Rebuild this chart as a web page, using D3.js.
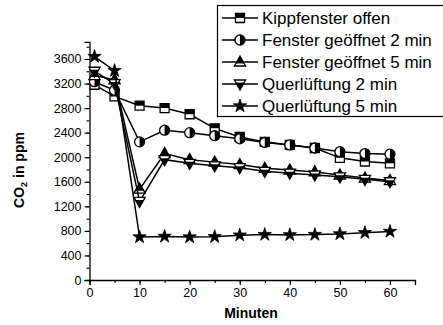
<!DOCTYPE html>
<html><head><meta charset="utf-8">
<script src="https://cdn.jsdelivr.net/npm/d3@7"></script>
<style>body{margin:0;background:#fff}svg{display:block;font-family:"Liberation Sans",Arial,sans-serif}</style>
</head><body><svg id="c" width="443" height="325"></svg>
<script>
const minutes = [1,5,10,15,20,25,30,35,40,45,50,55,60];
const kippfenster = [3180,2990,2840,2800,2700,2470,2330,2250,2200,2150,1990,1930,1900];
const fenster2 = [3230,3090,2250,2440,2400,2350,2300,2240,2200,2150,2090,2060,2050];
const fenster5 = [3330,3260,1480,2060,1960,1920,1880,1820,1790,1760,1710,1660,1620];
const quer2 = [3400,3200,1280,1960,1900,1860,1830,1770,1740,1710,1680,1640,1600];
const quer5 = [3640,3410,700,710,700,705,730,740,735,740,750,770,790];
const seriesNames = ["Kippfenster offen","Fenster geöffnet 2 min","Fenster geöffnet 5 min","Querlüftung 2 min","Querlüftung 5 min"];
const seriesMarkers = ["square","circle","up","down","star"];
const xTicks = [0,10,20,30,40,50,60];
const yTicks = [0,400,800,1200,1600,2000,2400,2800,3200,3600];
const series = [kippfenster,fenster2,fenster5,quer2,quer5];

const svg = d3.select("#c");
const x = d3.scaleLinear().domain([0,65]).range([89.5,415]);
const y = d3.scaleLinear().domain([0,3880]).range([280,41.8]);

// axes
const xAxis = svg.append("g").attr("transform","translate(0,280)");
xAxis.call(d3.axisBottom(x).tickValues(d3.range(0,66,5)).tickSize(3).tickFormat(""));
xAxis.call(g=>g.select(".domain").remove());
const xMaj = svg.append("g").attr("transform","translate(0,280)")
  .call(d3.axisBottom(x).tickValues(xTicks).tickSize(5).tickPadding(3).tickFormat(d3.format("d")));
xMaj.selectAll("text").attr("font-size",12.5).attr("font-family","Liberation Sans, Arial");
const yAxis = svg.append("g").attr("transform","translate(89.5,0)");
yAxis.call(d3.axisLeft(y).tickValues(d3.range(0,3801,200)).tickSize(3).tickFormat(""));
yAxis.call(g=>g.select(".domain").remove());
const yMaj = svg.append("g").attr("transform","translate(89.5,0)")
  .call(d3.axisLeft(y).tickValues(yTicks).tickSize(5).tickPadding(3).tickFormat(d3.format("d")));
yMaj.selectAll("text").attr("font-size",12.5).attr("font-family","Liberation Sans, Arial");
svg.selectAll(".tick line").attr("stroke-width",1.1);
svg.selectAll(".domain").attr("stroke-width",1.3);

// titles
svg.append("text").attr("x",251).attr("y",318).attr("text-anchor","middle")
  .attr("font-weight","bold").attr("font-size",14).text("Minuten");
const yt = svg.append("text").attr("transform","translate(24,170) rotate(-90)")
  .attr("text-anchor","middle").attr("font-weight","bold").attr("font-size",14);
yt.append("tspan").text("CO");
yt.append("tspan").attr("font-size",9).attr("dy",3).text("2");
yt.append("tspan").attr("dy",-3).text(" in ppm");

// marker drawing
const defs = svg.append("defs");
defs.append("clipPath").attr("id","cTop").append("rect").attr("x",-10).attr("y",-10).attr("width",20).attr("height",10);
defs.append("clipPath").attr("id","cRight").append("rect").attr("x",0).attr("y",-10).attr("width",10).attr("height",20);
defs.append("clipPath").attr("id","cTopTri").append("rect").attr("x",-10).attr("y",-10).attr("width",20).attr("height",11.5);
defs.append("clipPath").attr("id","cBotTri").append("rect").attr("x",-10).attr("y",-1.5).attr("width",20).attr("height",12);
const shapes = {
  square: {d:"M-4.5,-4.5H4.5V4.5H-4.5Z", clip:"cTop"},
  circle: {d:d3.symbol(d3.symbolCircle, 78)(), clip:"cRight"},
  up: {d:"M0,-6L5.6,4H-5.6Z", clip:"cTopTri"},
  down: {d:"M0,6L5.6,-4H-5.6Z", clip:"cBotTri"},
  star: {d:d3.symbol(d3.symbolStar, 55)(), clip:null}
};
function marker(g, type){
  const s = shapes[type];
  if (type==="star"){
    g.append("path").attr("d",s.d).attr("fill","#000").attr("stroke","#000").attr("stroke-width",0.8);
    return;
  }
  g.append("path").attr("d",s.d).attr("fill","#fff").attr("stroke","none");
  g.append("path").attr("d",s.d).attr("fill","#000").attr("clip-path",`url(#${s.clip})`);
  g.append("path").attr("d",s.d).attr("fill","none").attr("stroke","#000").attr("stroke-width",1.3);
}

const line = d3.line().x((d,i)=>x(minutes[i])).y(d=>y(d));
series.forEach((vals,si)=>{
  svg.append("path").attr("d",line(vals)).attr("fill","none").attr("stroke","#000").attr("stroke-width",1.5);
  vals.forEach((v,i)=>{
    marker(svg.append("g").attr("transform",`translate(${x(minutes[i])},${y(v)})`), seriesMarkers[si]);
  });
});

// legend
const lg = svg.append("g");
lg.append("rect").attr("x",217.5).attr("y",5.5).attr("width",240).attr("height",111)
  .attr("fill","#fff").attr("stroke","#000").attr("stroke-width",1.2);
seriesNames.forEach((n,i)=>{
  const cy = 18 + i*22;
  lg.append("line").attr("x1",222).attr("x2",258).attr("y1",cy).attr("y2",cy).attr("stroke","#000").attr("stroke-width",1.5);
  marker(lg.append("g").attr("transform",`translate(240,${cy})`), seriesMarkers[i]);
  lg.append("text").attr("x",262).attr("y",cy).attr("dy","0.35em").attr("font-size",17).text(n);
});
</script></body></html>
